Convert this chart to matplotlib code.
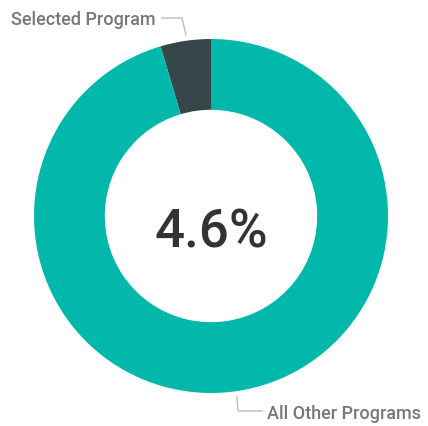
import matplotlib.pyplot as plt

# Data
labels = ['Selected Program', 'All Other Programs']
shares = [4.6, 95.4]
colors = ['#374649', '#01B8AA']
center_text = '4.6%'

plt.rcParams['font.family'] = ['Roboto', 'DejaVu Sans']

fig = plt.figure(figsize=(4.28, 4.27), dpi=100)
ax = fig.add_axes([0, 0, 1, 1])

# donut, pixel coords (y from bottom)
cx, cy, r = 211, 427 - 217, 177
ax.pie(shares, colors=colors, startangle=90, counterclock=True,
       center=(cx, cy), radius=r, frame=True,
       wedgeprops=dict(width=r * 0.4, linewidth=0))
ax.set_xlim(0, 428)
ax.set_ylim(0, 427)
ax.axis('off')

ax.text(cx, 427 - 233, center_text, ha='center', va='center',
        fontsize=38, color='#333333', fontweight='medium')

# leader lines and labels
line_c = '#bbbbbb'
ax.plot([162, 182, 186], [427 - 19, 427 - 19, 427 - 36], color=line_c, lw=1)
ax.text(156, 427 - 20, labels[0], ha='right', va='center', fontsize=13,
        color='#777777', fontweight='medium')
ax.plot([237, 238, 262], [427 - 398, 427 - 412, 427 - 412], color=line_c, lw=1)
ax.text(267, 427 - 414, labels[1], ha='left', va='center', fontsize=13,
        color='#777777', fontweight='medium')

fig.savefig('out.png', dpi=100)
